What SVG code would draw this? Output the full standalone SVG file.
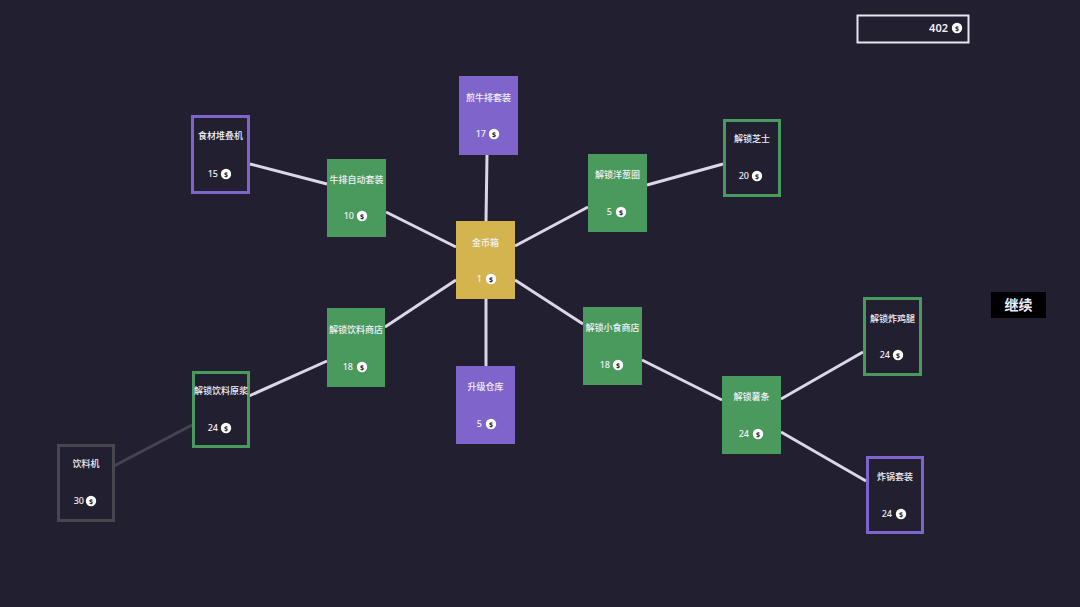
<svg xmlns="http://www.w3.org/2000/svg" width="1080" height="607" viewBox="0 0 1080 607">
<defs>
<style>
.bg{fill:#221f30}
.t{font-family:"Noto Sans CJK SC","Noto Sans",sans-serif;font-size:9px;font-weight:500;fill:#f2f0f5;text-anchor:middle}
.n{font-family:"Noto Sans","Noto Sans CJK SC",sans-serif;font-size:9px;font-weight:500;fill:#f2f0f5;text-anchor:end}
.cc{fill:#ffffff}
.cs{font-family:"Noto Sans",sans-serif;font-size:7px;font-weight:bold;fill:#221f30;text-anchor:middle}
.gf{fill:#4a9a5e}
.pf{fill:#7f65cb}
.yf{fill:#d4b44f}
.go{fill:#221f30;stroke:#4a9a5e;stroke-width:3}
.po{fill:#221f30;stroke:#7f65cb;stroke-width:3}
.ko{fill:#221f30;stroke:#48464f;stroke-width:3}
.ln{stroke:#dcd7e6;stroke-width:3;fill:none}
.lg{stroke:#46434f;stroke-width:3;fill:none}
</style>
<g id="coin"><circle cx="0" cy="0" r="5.2" class="cc"/><text x="0" y="2.5" class="cs">$</text></g>
</defs>
<rect class="bg" x="0" y="0" width="1080" height="607"/>
<g id="connectors">
<line class="ln" x1="486" y1="221" x2="487" y2="155"/>
<line class="ln" x1="456" y1="247" x2="386" y2="212"/>
<line class="ln" x1="327" y1="184" x2="250" y2="164"/>
<line class="ln" x1="515" y1="246" x2="588" y2="207"/>
<line class="ln" x1="647" y1="185" x2="723" y2="164"/>
<line class="ln" x1="456" y1="280" x2="385" y2="327"/>
<line class="ln" x1="327" y1="361" x2="249" y2="396"/>
<line class="lg" x1="192" y1="425" x2="114" y2="466"/>
<line class="ln" x1="486" y1="299" x2="486" y2="366"/>
<line class="ln" x1="515" y1="280" x2="583" y2="324"/>
<line class="ln" x1="642" y1="360" x2="722" y2="400"/>
<line class="ln" x1="781" y1="399" x2="863" y2="352"/>
<line class="ln" x1="781" y1="432" x2="866" y2="481"/>
</g>
<g id="counter">
<rect x="857.5" y="15.5" width="111" height="27" fill="#221f30" stroke="#e8e6ee" stroke-width="2"/>
<text x="948" y="32" class="n" style="font-size:11px;font-weight:600">402</text>
<use href="#coin" x="957" y="28"/>
</g>
<g id="continue">
<rect x="991" y="292" width="55" height="26" fill="#000000"/>
<text x="1018.5" y="310" class="t" style="font-size:14px;font-weight:bold">继续</text>
</g>
<g id="n-jianniupai">
<rect class="pf" x="459" y="76" width="59" height="79"/>
<text class="t" x="488.5" y="101">煎牛排套装</text>
<text class="n" x="486" y="137">17</text><use href="#coin" x="494" y="134"/>
</g>
<g id="n-jinbixiang">
<rect class="yf" x="456" y="221" width="59" height="78"/>
<text class="t" x="485.5" y="246">金币箱</text>
<text class="n" x="482" y="282">1</text><use href="#coin" x="491" y="279"/>
</g>
<g id="n-niupaizidong">
<rect class="gf" x="327" y="159" width="59" height="78"/>
<text class="t" x="356.5" y="183">牛排自动套装</text>
<text class="n" x="354" y="219">10</text><use href="#coin" x="362" y="216"/>
</g>
<g id="n-shicaiduidie">
<rect class="po" x="192.5" y="116.5" width="56" height="76"/>
<text class="t" x="220.5" y="139">食材堆叠机</text>
<text class="n" x="218" y="177">15</text><use href="#coin" x="226" y="174"/>
</g>
<g id="n-yangcongquan">
<rect class="gf" x="588" y="154" width="59" height="78"/>
<text class="t" x="617.5" y="178">解锁洋葱圈</text>
<text class="n" x="612" y="215">5</text><use href="#coin" x="621" y="212"/>
</g>
<g id="n-zhishi">
<rect class="go" x="724.5" y="120.5" width="55" height="75"/>
<text class="t" x="752" y="142">解锁芝士</text>
<text class="n" x="749" y="179">20</text><use href="#coin" x="757" y="176"/>
</g>
<g id="n-yinliaoshangdian">
<rect class="gf" x="327" y="308" width="58" height="79"/>
<text class="t" x="356" y="333">解锁饮料商店</text>
<text class="n" x="353" y="370">18</text><use href="#coin" x="362" y="367"/>
</g>
<g id="n-yinliaoyuanjiang">
<rect class="go" x="193.5" y="372.5" width="55" height="74"/>
<text class="t" x="221" y="394">解锁饮料原浆</text>
<text class="n" x="218" y="431">24</text><use href="#coin" x="226" y="428"/>
</g>
<g id="n-yinliaoji">
<rect class="ko" x="58.5" y="445.5" width="55" height="75"/>
<text class="t" x="86" y="467">饮料机</text>
<text class="n" x="84" y="504">30</text><use href="#coin" x="91" y="501"/>
</g>
<g id="n-shengjicangku">
<rect class="pf" x="456" y="366" width="59" height="78"/>
<text class="t" x="485.5" y="390">升级仓库</text>
<text class="n" x="482" y="427">5</text><use href="#coin" x="491" y="424"/>
</g>
<g id="n-xiaoshishangdian">
<rect class="gf" x="583" y="307" width="59" height="78"/>
<text class="t" x="612.5" y="331">解锁小食商店</text>
<text class="n" x="610" y="368">18</text><use href="#coin" x="618" y="365"/>
</g>
<g id="n-shutiao">
<rect class="gf" x="722" y="376" width="59" height="78"/>
<text class="t" x="751.5" y="400">解锁薯条</text>
<text class="n" x="749" y="437">24</text><use href="#coin" x="758" y="434"/>
</g>
<g id="n-zhajitui">
<rect class="go" x="864.5" y="298.5" width="56" height="76"/>
<text class="t" x="892.5" y="322">解锁炸鸡腿</text>
<text class="n" x="890" y="358">24</text><use href="#coin" x="898" y="355"/>
</g>
<g id="n-zhaguo">
<rect class="po" x="867.5" y="457.5" width="55" height="75"/>
<text class="t" x="895" y="480">炸锅套装</text>
<text class="n" x="892" y="517">24</text><use href="#coin" x="901" y="514"/>
</g>
</svg>
